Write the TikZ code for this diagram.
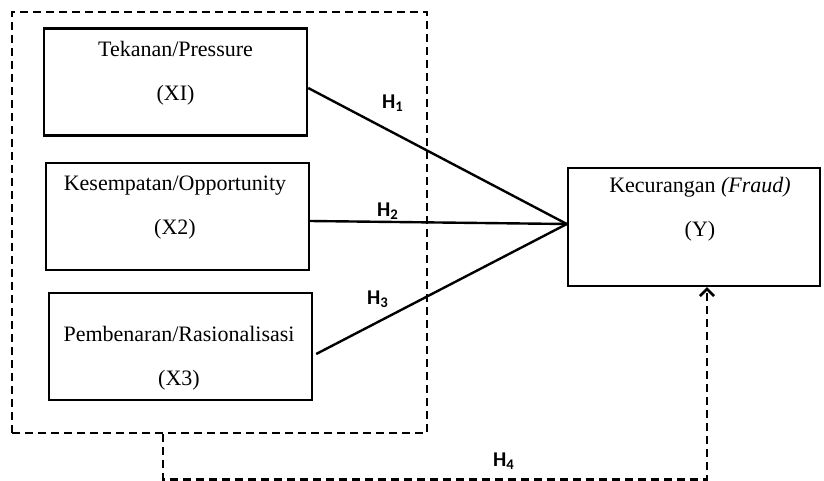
\documentclass[tikz,border=0pt]{standalone}
\usepackage{fontspec}
\setmainfont{Liberation Serif}
\newfontfamily\hypfont{Carlito}
\usetikzlibrary{arrows.meta, positioning}
\tikzset{
  varbox/.style={draw, line width=1.2pt, minimum width=131.5pt, minimum height=53.5pt, inner sep=0pt},
  boxtext/.style={align=center, inner sep=0pt, font=\fontsize{11}{22}\selectfont},
  hyplabel/.style={inner sep=0pt, font=\hypfont\bfseries\fontsize{10.5}{12}\selectfont},
  dashline/.style={line width=1.3pt, dash pattern=on 4pt off 2.5pt},
  pathline/.style={line width=1.2pt}
}

\begin{document}
\begin{tikzpicture}[x=0.5pt, y=-0.5pt]
  \useasboundingbox (0,0) rectangle (824,481);

  \node[draw, dashline, minimum width=207.5pt, minimum height=210.5pt] (group) at (219.5,222.5) {};

  \node[varbox] (press) at (175.5,82) {};
  \node[boxtext] (pressText) at (175.5,73.5) {Tekanan/Pressure\\(XI)};
  \node[varbox] (opp) at (177.5,216.5) {};
  \node[boxtext] (oppText) at (175,207.5) {Kesempatan/Opportunity\\(X2)};
  \node[varbox] (rasio) at (180.5,346.5) {};
  \node[boxtext] (rasioText) at (179,358.5) {Pembenaran/Rasionalisasi\\(X3)};

  \node[varbox, minimum width=126pt, minimum height=59pt] (fraud) at (694,227) {};
  \node[boxtext] (fraudText) at (700,209) {Kecurangan \textit{(Fraud)}\\(Y)};

  \coordinate (meet) at ([yshift=1.5pt]fraud.west);
  \draw[pathline] ([yshift=-3pt]press.east) -- (meet);
  \draw[pathline] ([yshift=-2.25pt]opp.east) -- (meet);
  \draw[pathline] ([xshift=1.5pt, yshift=-3.75pt]rasio.east) -- (meet);

  \coordinate (drop) at ([xshift=-28.25pt]group.south);
  \draw[dashline, -{Straight Barb[length=3.5pt, width=7pt]}] (drop) -- ++(0,45) -| ([xshift=6.5pt]fraud.south);

  \node[hyplabel] (h1) at (393,103) {H\textsubscript{1}};
  \node[hyplabel] (h2) at (388,211) {H\textsubscript{2}};
  \node[hyplabel] (h3) at (378,299) {H\textsubscript{3}};
  \node[hyplabel] (h4) at (504,461) {H\textsubscript{4}};
\end{tikzpicture}
\end{document}
